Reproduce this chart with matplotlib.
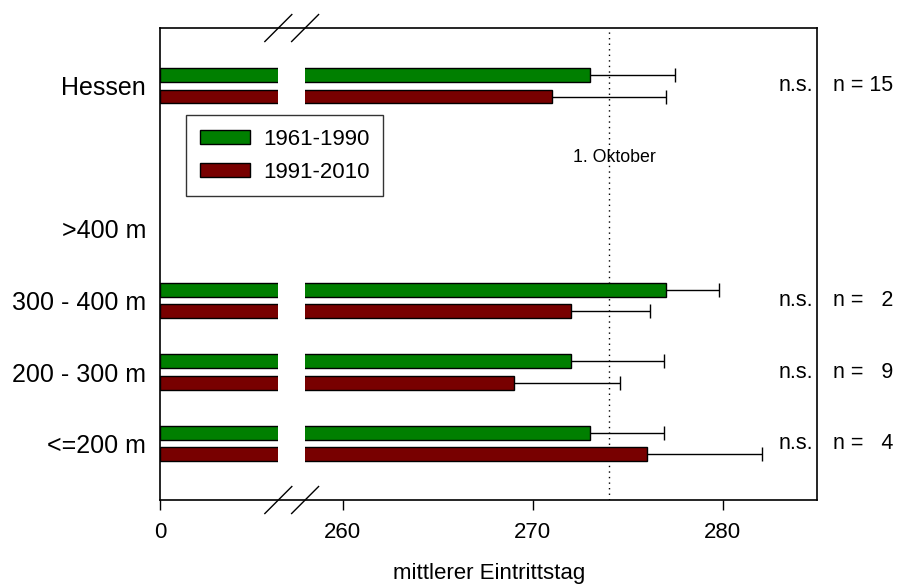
import matplotlib
matplotlib.use("Agg")
import matplotlib.pyplot as plt
import matplotlib.transforms as mtransforms
from matplotlib.patches import Patch

plt.rcParams["font.family"] = ["Liberation Sans", "DejaVu Sans"]

# groups from bottom to top (position 5 stays empty)
groups = ["<=200 m", "200 - 300 m", "300 - 400 m", ">400 m", "Hessen"]
positions = [1, 2, 3, 4, 6]
mean_6190 = [273.0, 272.0, 277.0, None, 273.0]
sd_6190 = [3.9, 4.9, 2.8, None, 4.5]
mean_9110 = [276.0, 269.0, 272.0, None, 271.0]
sd_9110 = [6.1, 5.6, 4.2, None, 6.0]
signif = ["n.s.", "n.s.", "n.s.", "", "n.s."]
n_labels = ["n =   4", "n =   9", "n =   2", "", "n = 15"]

period_labels = ["1961-1990", "1991-2010"]
colors = ["#007f00", "#780000"]

x_min, x_max = 250.38, 285.0
gap = (256.61, 258.02)
xticks = [x_min, 260, 270, 280]
xticklabels = ["0", "260", "270", "280"]
oktober = 274.0

bar_h = 0.19
offset = 0.15
cap = 0.098

fig = plt.figure(figsize=(8.99, 5.84), dpi=100)
ax = fig.add_axes([0.178, 0.1438, 0.7313, 0.8082])

for means, sds, col, sign in [(mean_6190, sd_6190, colors[0], 1),
                              (mean_9110, sd_9110, colors[1], -1)]:
    rows = [(p + sign * offset, m, s) for p, m, s in zip(positions, means, sds) if m is not None]
    ys = [r[0] for r in rows]
    ms = [r[1] for r in rows]
    ends = [r[1] + r[2] for r in rows]
    ax.barh(ys, [m - x_min for m in ms], left=x_min, height=bar_h, color=col,
            edgecolor="black", linewidth=1.0, zorder=1)
    # one-sided error bars
    ax.hlines(ys, ms, ends, color="black", linewidth=1.0, zorder=0.9)
    ax.vlines(ends, [y - cap for y in ys], [y + cap for y in ys], color="black",
              linewidth=1.0, zorder=0.9)

# white strip for the axis break
ax.axvspan(gap[0], gap[1], color="white", zorder=1.5, lw=0)

ax.axvline(oktober, color="black", linestyle=(0, (1, 3)), linewidth=1.0, zorder=0.5)
ax.text(oktober + 0.3, 5.0, "1. Oktober", ha="center", va="center", fontsize=12.8)

side = mtransforms.blended_transform_factory(fig.transFigure, ax.transData)
for p, s, n in zip(positions, signif, n_labels):
    if s:
        ax.text(813 / 899, p, s, fontsize=15.5, ha="right", va="center", transform=side)
        ax.text(833 / 899, p, n, fontsize=15.5, ha="left", va="center", transform=side)

ax.set_xlim(x_min, x_max)
ax.set_ylim(0.21, 6.81)
ax.set_xticks(xticks)
ax.set_xticklabels(xticklabels, fontsize=16)
ax.set_yticks(positions)
ax.set_yticklabels(groups, fontsize=18)
ax.tick_params(axis="x", length=7, width=1.0, pad=9)
ax.tick_params(axis="y", length=0, pad=10)
ax.set_xlabel("mittlerer Eintrittstag", fontsize=16, labelpad=14)
for sp in ax.spines.values():
    sp.set_linewidth(1.2)

# break marks on top and bottom spine
brk = mtransforms.blended_transform_factory(ax.transData, ax.transAxes)
dx, dy = 0.71, 13.5 / 472
for xc in gap:
    for yc in (0, 1):
        ax.plot([xc - dx, xc + dx], [yc - dy, yc + dy], color="black", lw=1.0,
                transform=brk, clip_on=False, zorder=3)

handles = [Patch(facecolor=c, edgecolor="black", linewidth=1.0) for c in colors]
leg = ax.legend(handles, period_labels, loc="upper left", bbox_to_anchor=(0.04, 0.815),
                fontsize=16, frameon=True, fancybox=False, edgecolor="black",
                handlelength=2.25, handleheight=0.6, handletextpad=0.6,
                labelspacing=0.55, borderpad=0.6, borderaxespad=0)
leg.get_frame().set_linewidth(1.0)
leg.set_zorder(5)

fig.savefig("out.png", dpi=100)
